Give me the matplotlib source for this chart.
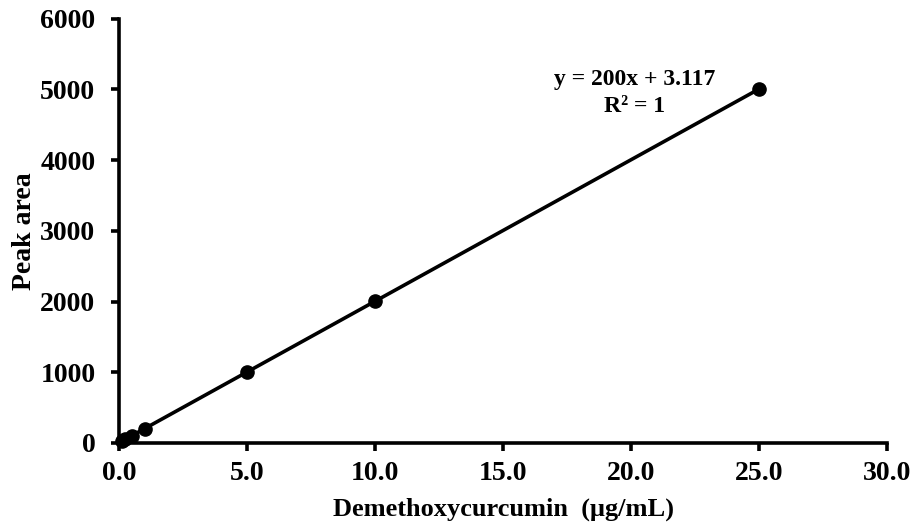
import numpy as np
import matplotlib
matplotlib.use("Agg")
import matplotlib.pyplot as plt

# Calibration standards: concentration (µg/mL) and measured peak area
concentration = [0.1, 0.25, 0.5, 1.0, 5.0, 10.0, 25.0]
peak_area = [23, 53, 103, 203, 1003, 2003, 5003]

# Linear regression reported on the chart
slope = 200.0
intercept = 3.117
r_squared = 1

x_ticks = [0.0, 5.0, 10.0, 15.0, 20.0, 25.0, 30.0]
y_ticks = [0, 1000, 2000, 3000, 4000, 5000, 6000]

plt.rcParams["font.family"] = ["Liberation Serif", "DejaVu Serif"]
plt.rcParams["font.weight"] = "bold"

W, H = 913, 532
fig = plt.figure(figsize=(W / 100, H / 100), dpi=100)
ax = fig.add_axes([119 / W, 1 - 443 / H, (887 - 119) / W, (443 - 18.5) / H])

# Trendline over the range of the standards
xl = np.array([min(concentration), max(concentration)])
ax.plot(xl, slope * xl + intercept, color="black", lw=2.6, zorder=2)
ax.plot(concentration, peak_area, "o", color="black", ms=9.5, zorder=3,
        clip_on=False)

ax.set_xlim(0, 30)
ax.set_ylim(0, 6000)
ax.set_xticks(x_ticks)
ax.set_xticklabels([f"{t:.1f}" for t in x_ticks])
ax.set_yticks(y_ticks)
ax.set_yticklabels([str(t) for t in y_ticks])

for side in ("top", "right"):
    ax.spines[side].set_visible(False)
for side in ("left", "bottom"):
    ax.spines[side].set_linewidth(2.6)

ax.tick_params(axis="both", direction="out", length=6, width=2.6,
               labelsize=20)
ax.tick_params(axis="y", pad=11)
ax.tick_params(axis="x", pad=7)
for lab in ax.get_xticklabels() + ax.get_yticklabels():
    lab.set_fontweight("bold")

ax.set_xlabel("Demethoxycurcumin  (\u03bcg/mL)", fontsize=19, fontweight="bold",
              labelpad=8)
ax.set_ylabel("Peak area", fontsize=20, fontweight="bold")
ax.yaxis.set_label_coords(-0.107, 0.5)

fig.text(635 / W, 1 - 79 / H, f"y = {slope:.0f}x + {intercept}",
         fontsize=17, fontweight="bold", ha="center", va="center")
fig.text(635 / W, 1 - 106 / H, f"R\u00b2 = {r_squared}",
         fontsize=17, fontweight="bold", ha="center", va="center")

fig.savefig("out.png", dpi=100)
